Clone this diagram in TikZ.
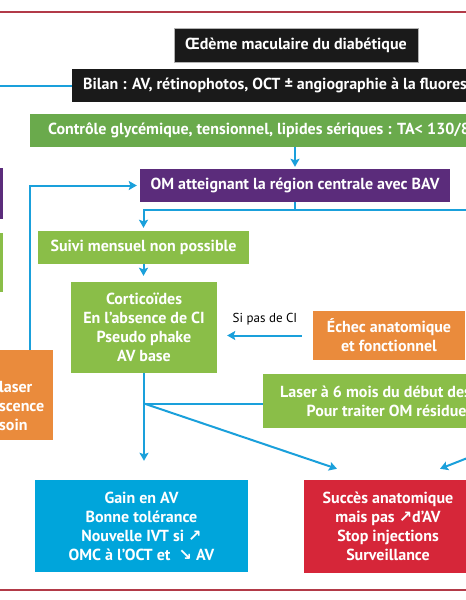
\documentclass[tikz,border=0pt]{standalone}
\usepackage{fontspec}
\setmainfont{PT Sans}
\newfontfamily\flechefont{DejaVu Sans}
\usetikzlibrary{arrows.meta}
\definecolor{noir}{HTML}{1A1A1A}
\definecolor{vertfonce}{HTML}{6AAA4C}
\definecolor{vertclair}{HTML}{8ABE48}
\definecolor{violet}{HTML}{5B2C7B}
\definecolor{orange}{HTML}{EA8B3C}
\definecolor{bleu}{HTML}{00A5DB}
\definecolor{rouge}{HTML}{D62639}
\definecolor{bleutrait}{HTML}{1AA0DB}
\definecolor{filet}{HTML}{B23A48}
\begin{document}
\begin{tikzpicture}[x=1pt, y=-1pt,
    bloc/.style={fill=#1, text=white, font=\bfseries\fontsize{16}{19}\selectfont,
                 align=center, inner sep=0pt},
    fleche/.style={->, >={Stealth[length=8pt,width=9pt,inset=1.5pt]}, line width=2pt, bleutrait},
    trait/.style={line width=2pt, bleutrait},
]
\useasboundingbox (0,0) rectangle (466,600);
\clip (0,0) rectangle (466,600);
\fill[white] (0,0) rectangle (466,600);
% filets haut et bas
\draw[filet, line width=1.5pt] (0,12) -- (466,12);
\draw[filet, line width=1.5pt] (0,590) -- (466,590);

\node[bloc=noir, draw=gray!60, line width=0.6pt, minimum width=244pt, minimum height=34pt] (oedeme) at (296,45) {Œdème maculaire du diabétique};
\node[bloc=noir, anchor=west, inner xsep=11pt, minimum height=33pt] (bilan) at (72,85.5) {Bilan : AV, rétinophotos, OCT ± angiographie à la fluorescéine};
\node[bloc=vertfonce, anchor=west, inner xsep=18pt, minimum height=33pt] (controle) at (30,130.5) {Contrôle glycémique, tensionnel, lipides sériques : TA< 130/80};
\node[bloc=violet, minimum width=310pt, minimum height=33pt] (om) at (295,185.5) {OM atteignant la région centrale avec BAV};
\node[bloc=violet, minimum width=53pt, minimum height=51pt] (violetgauche) at (-23.5,193.5) {};
\node[bloc=vertclair, minimum width=53pt, minimum height=59pt] (vertgauche) at (-23.5,262.5) {};
\node[bloc=vertclair, minimum width=211pt, minimum height=33pt] (suivi) at (143.5,247.5) {Suivi mensuel non possible};
\node[bloc=vertclair, minimum width=146pt, minimum height=91pt] (cortico) at (144,327.5) {Corticoïdes\\En l’absence de CI\\Pseudo phake\\AV base};
\node[bloc=orange, minimum width=152pt, minimum height=49pt] (echec) at (389,335.5) {Échec anatomique\\et fonctionnel};
\node[bloc=orange, align=left, anchor=north west, text width=45pt, inner xsep=9pt, minimum height=90pt] (orangegauche) at (-10,350) {\strut\\laser\\scence\\soin};
\node[bloc=vertclair, minimum width=252pt, minimum height=54pt] (laser) at (389,401) {Laser à 6 mois du début des IVT\\Pour traiter OM résiduel};
\node[bloc=bleu, minimum width=213pt, minimum height=92pt] (gain) at (141.5,526) {Gain en AV\\Bonne tolérance\\Nouvelle IVT si {\flechefont ↗}\\OMC à l’OCT et ~{\flechefont ↘} AV};
\node[bloc=rouge, minimum width=168pt, minimum height=93pt] (succes) at (388,526.5) {Succès anatomique\\mais pas {\flechefont ↗}d’AV\\Stop injections\\Surveillance};

\coordinate (horsgauche) at (0,85.5);
\coordinate (split) at (295,210);
\coordinate (horsdroite) at (470,210);
\coordinate (jonction) at (144,403.5);
\coordinate (basdroite) at (470,457);

\draw[trait] (horsgauche) -- (bilan.west);
\draw[fleche, shorten >=2pt] (controle.south -| om.north) -- (om.north);
\draw[fleche, shorten >=3pt] ([xshift=8.5pt]orangegauche.north) |- (om.west);
\draw[trait] (om.south) -- (split);
\draw[fleche, shorten >=3pt] (split) -| (suivi.north);
\draw[trait] (split) -- (horsdroite);
\draw[fleche, shorten >=6pt] (suivi.south) -- (suivi.south |- cortico.north);
\draw[fleche, shorten <=11pt, shorten >=10pt] (echec.west) -- (echec.west -| cortico.east)
    node[midway, above=6pt, text=black, font=\fontsize{13}{15}\selectfont] (sipas) {Si pas de CI};
\draw[fleche, shorten >=19pt] (cortico.south) -- (cortico.south |- gain.north);
\draw[trait] (laser.west |- jonction) -- (jonction);
\draw[fleche] (jonction) -- ([xshift=-51pt, yshift=11pt]succes.north);
\draw[fleche] (basdroite) -- ([xshift=52pt, yshift=11pt]succes.north);
\end{tikzpicture}
\end{document}
